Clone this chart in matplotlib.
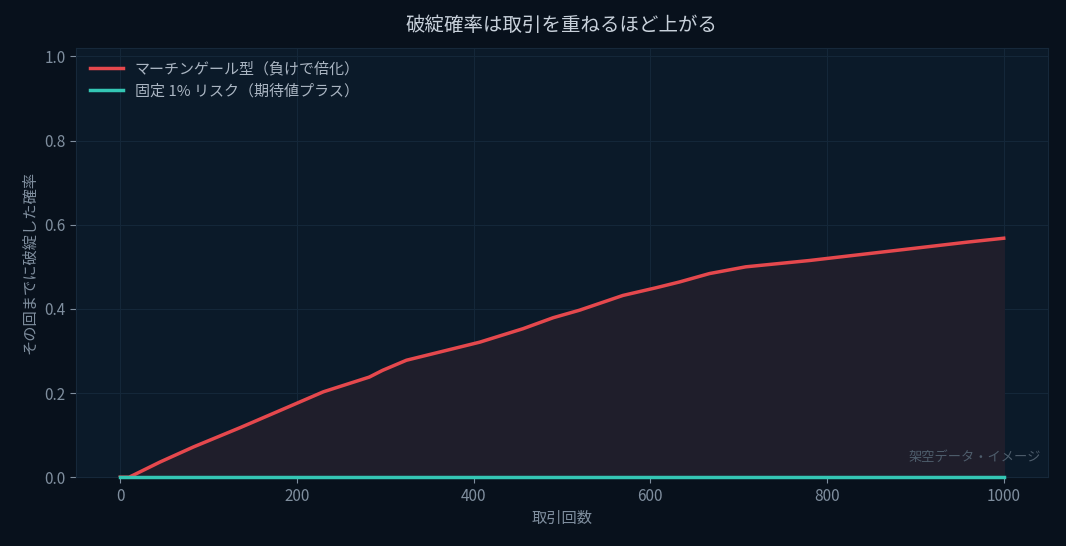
import matplotlib
matplotlib.use("Agg")
import matplotlib.pyplot as plt
import numpy as np

plt.rcParams['font.family'] = ['Noto Sans CJK JP', 'DejaVu Sans']

# データ
trades = [0, 10, 15, 45, 83, 136, 177, 230, 282, 297, 324, 407, 456, 490,
          520, 569, 606, 633, 667, 708, 780, 870, 960, 1000]
ruin_martingale = [0.0, 0.0, 0.005, 0.036, 0.072, 0.118, 0.155, 0.203, 0.238,
                   0.254, 0.278, 0.321, 0.353, 0.379, 0.397, 0.432, 0.45,
                   0.464, 0.484, 0.5, 0.515, 0.537, 0.559, 0.568]
fixed_x = [0, 1000]
ruin_fixed = [0.0, 0.0]

label_m = "マーチンゲール型\uff08負けで倍化\uff09"
label_f = "固定 1% リスク\uff08期待値プラス\uff09"

fig_bg = "#08111c"
ax_bg = "#0b1a29"
txt = "#7f8e9e"

fig = plt.figure(figsize=(10.66, 5.46), dpi=100, facecolor=fig_bg)
ax = fig.add_axes([0.0713, 0.126, 0.9117, 0.786])
ax.set_facecolor(ax_bg)

x = np.array(trades)
y = np.array(ruin_martingale)
ax.fill_between(x, 0, y, color="#1f1e2b", zorder=1)
ax.plot(x, y, color="#e5484d", lw=2.5, label=label_m, zorder=3)
ax.plot(fixed_x, ruin_fixed, color="#34c6b4", lw=2.5, label=label_f,
        zorder=4, clip_on=False)

ax.set_xlim(-50, 1050)
ax.set_ylim(0, 1.02)
ax.set_xticks([0, 200, 400, 600, 800, 1000])
ax.set_yticks([0.0, 0.2, 0.4, 0.6, 0.8, 1.0])
ax.grid(True, color="#15283a", lw=0.7)
ax.set_axisbelow(True)
for s in ax.spines.values():
    s.set_color("#16283a")
ax.tick_params(colors=txt, labelsize=11, length=4)

ax.set_xlabel("取引回数", color=txt, fontsize=11)
ax.set_ylabel("その回までに破綻した確率", color=txt, fontsize=11)
ax.set_title("破綻確率は取引を重ねるほど上がる", color="#c8d1db", fontsize=14, pad=12)

leg = ax.legend(loc="upper left", frameon=False, fontsize=10.8, handlelength=2.2)
for t in leg.get_texts():
    t.set_color("#aab5c2")

ax.text(0.993, 0.03, "架空データ・イメージ", transform=ax.transAxes,
        ha="right", va="bottom", color="#4e5d6c", fontsize=9.5)

fig.savefig("out.png", dpi=100, facecolor=fig_bg)
